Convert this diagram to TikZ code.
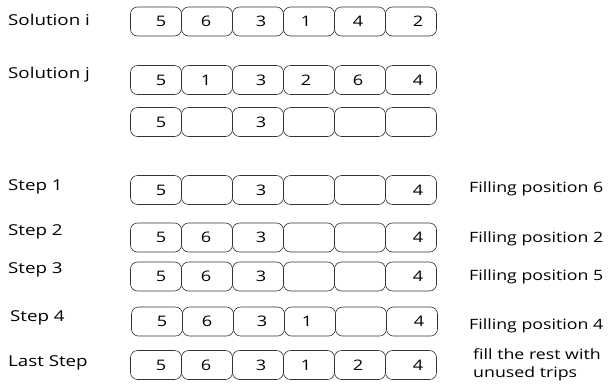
\documentclass[tikz,border=0pt]{standalone}
\usepackage{fontspec}
\setmainfont{Open Sans}[FakeStretch=1.25]
\usetikzlibrary{positioning}
\tikzset{cellbox/.style={draw=black!80,line width=0.6pt,rounded corners=7pt,
 minimum width=51pt,minimum height=29pt,inner sep=0pt,font=\fontsize{14.5}{17}\selectfont},
 rowlabel/.style={anchor=west,inner sep=0pt,font=\fontsize{15}{18}\selectfont},
 notelabel/.style={anchor=west,inner sep=0pt,align=left,font=\fontsize{14.2}{17.5}\selectfont}}
\begin{document}
\begin{tikzpicture}[x=1pt,y=-1pt]
\useasboundingbox (0,0) rectangle (610,384);
% rows of cells: name / y / x start / values
\foreach \r/\y/\xs/\vals in {si/21.5/130.5/{5,6,3,1,4,2},
 sj/80/130.5/{5,1,3,2,6,4},
 sk/122/130.5/{5,,3,,,},
 sa/190/130.5/{5,,3,,,4},
 sb/237.5/130.5/{5,6,3,,,4},
 sc/276.5/130.5/{5,6,3,,,4},
 sd/321.5/131.5/{5,6,3,1,,4},
 se/365/130.5/{5,6,3,1,2,4}}{
 \foreach \v [count=\c] in \vals{
  \pgfmathsetmacro\dx{2*{5,-1,3,-3,-2,7}[\c-1]}
  \node[cellbox] (\r\c) at (\xs+25.5+51*\c-51,\y) {\hspace*{\dx pt}\v};
 }
}
\node[rowlabel] (lsi) at (8,20) {Solution i};
\node[rowlabel] (lsj) at (8,75) {Solution j};
\node[rowlabel] (lsa) at (8,187) {Step 1};
\node[rowlabel] (lsb) at (8,232) {Step 2};
\node[rowlabel] (lsc) at (8,270) {Step 3};
\node[rowlabel] (lsd) at (10,318) {Step 4};
\node[rowlabel] (lse) at (8,363) {Last Step};
\node[notelabel] (nsa) at (469,189) {Filling position 6};
\node[notelabel] (nsb) at (469,239) {Filling position 2};
\node[notelabel] (nsc) at (469,277) {Filling position 5};
\node[notelabel] (nsd) at (469,326) {Filling position 4};
\node[notelabel] (nse) at (473,365) {fill the rest with\\unused trips};
\end{tikzpicture}
\end{document}
